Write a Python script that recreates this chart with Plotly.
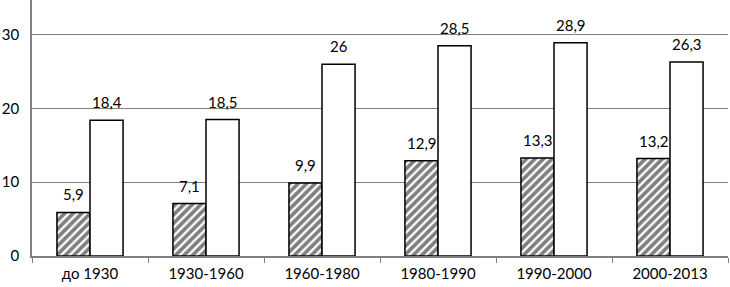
import plotly.graph_objects as go

categories = ["до 1930", "1930-1960", "1960-1980", "1980-1990", "1990-2000", "2000-2013"]
series_a = [5.9, 7.1, 9.9, 12.9, 13.3, 13.2]
series_b = [18.4, 18.5, 26, 28.5, 28.9, 26.3]
y_ticks = [0, 10, 20, 30]

def fmt(v):
    s = ("%g" % v)
    return s.replace(".", ",")

FONT = dict(family="Lato, Carlito, sans-serif", size=15, color="#000")

fig = go.Figure()
fig.add_trace(go.Bar(
    x=categories, y=series_a, name="a",
    marker=dict(color="white", line=dict(color="black", width=1.5),
                pattern=dict(shape="/", fgcolor="black", bgcolor="white", size=6, solidity=0.62)),
))
fig.add_trace(go.Bar(
    x=categories, y=series_b, name="b",
    marker=dict(color="white", line=dict(color="black", width=1.5)),
))

ann = []
for c, a, b in zip(categories, series_a, series_b):
    ann.append(dict(x=c, y=a, text=fmt(a), showarrow=False, xshift=-16.5, yshift=7,
                    yanchor="bottom", font=FONT))
    ann.append(dict(x=c, y=b, text=fmt(b), showarrow=False, xshift=16.5, yshift=7,
                    yanchor="bottom", font=FONT))

fig.update_layout(
    width=730, height=287,
    margin=dict(l=32, r=2, t=0, b=31, autoexpand=False),
    plot_bgcolor="white", paper_bgcolor="white",
    barmode="group", bargap=0.43, bargroupgap=0,
    showlegend=False,
    annotations=ann,
    font=FONT,
)
fig.update_xaxes(
    type="category", showline=True, linecolor="#808080", linewidth=1.5,
    ticks="outside", tickson="boundaries", ticklen=5, tickcolor="#808080",
    showgrid=False, tickfont=FONT, automargin=False, ticklabelstandoff=3,
)
fig.update_yaxes(
    range=[0, 34.7], tickvals=y_ticks, showline=True, linecolor="#808080", linewidth=1.5,
    showgrid=True, gridcolor="#808080", gridwidth=1, zeroline=False,
    ticks="", tickfont=FONT, ticklabelstandoff=8, automargin=False,
)

fig.write_html("out.html", config={"displayModeBar": False},
               post_script="document.body.style.margin='0';document.body.style.overflow='hidden';")
